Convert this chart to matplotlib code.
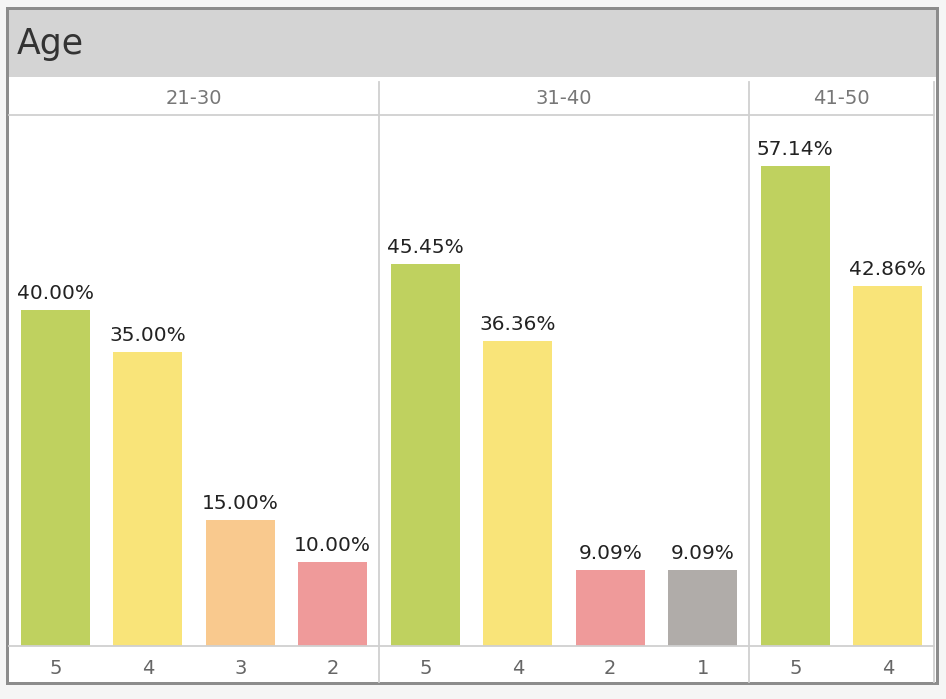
import matplotlib.pyplot as plt
from matplotlib.patches import Rectangle
from matplotlib.lines import Line2D

# Response share (%) by age group and rating
groups = ['21-30', '31-40', '41-50']
ratings = [['5', '4', '3', '2'], ['5', '4', '2', '1'], ['5', '4']]
values = [[40.00, 35.00, 15.00, 10.00], [45.45, 36.36, 9.09, 9.09], [57.14, 42.86]]

rating_colors = {'5': '#bfd15f', '4': '#f9e479', '3': '#f9c98e', '2': '#ef9a9a', '1': '#b0aca9'}

W, H = 946, 699
fig = plt.figure(figsize=(W / 100, H / 100), dpi=100)
fig.patch.set_facecolor('#f5f5f5')


def fx(x):
    return x / W


def fy(y):
    return 1 - y / H


def rect(x0, y0, x1, y1, **kw):
    fig.patches.append(Rectangle((fx(x0), fy(y1)), fx(x1) - fx(x0), fy(y0) - fy(y1),
                                 transform=fig.transFigure, **kw))


def hline(y, x0, x1, color='#d0d0d0', lw=1.3):
    fig.lines.append(Line2D([fx(x0), fx(x1)], [fy(y), fy(y)], transform=fig.transFigure,
                            color=color, lw=lw, zorder=3))


def vline(x, y0, y1, color='#d0d0d0', lw=1.3):
    fig.lines.append(Line2D([fx(x), fx(x)], [fy(y0), fy(y1)], transform=fig.transFigure,
                            color=color, lw=lw, zorder=3))


# outer frame, white body, title band
rect(6, 7, 939, 685, facecolor='#8c8c8c', edgecolor='none', zorder=-3)
rect(9, 10, 936, 682, facecolor='white', edgecolor='none', zorder=-2)
rect(9, 10, 936, 77, facecolor='#d4d4d4', edgecolor='none', zorder=-1)
fig.text(fx(17), fy(44), 'Age', fontsize=25, color='#333333', va='center', ha='left')

left, right = 9, 934
top, base = 115, 646
n_total = sum(len(r) for r in ratings)
slot = (right - left) / n_total
ymax = (base - top) / 8.4

x = left
edges = [x]
for g, r, v in zip(groups, ratings, values):
    w = slot * len(r)
    ax = fig.add_axes([fx(x), fy(base), w / W, (base - top) / H])
    ax.set_zorder(2)
    ax.set_facecolor('none')
    pos = list(range(len(r)))
    ax.bar(pos, v, width=0.75, color=[rating_colors[k] for k in r])
    for p, val in zip(pos, v):
        ax.text(p, val + 0.8, f'{val:.2f}%', ha='center', va='bottom', fontsize=14.5,
                color='#222222', clip_on=False)
    ax.set_xlim(-0.5, len(r) - 0.5)
    ax.set_ylim(0, ymax)
    ax.set_xticks(pos)
    ax.set_xticklabels(r, fontsize=14, color='#666666')
    ax.tick_params(axis='x', length=0, pad=9)
    ax.set_yticks([])
    for s in ax.spines.values():
        s.set_visible(False)
    fig.text(fx(x + w / 2), fy(99), g, ha='center', va='center', fontsize=14, color='#777777')
    x += w
    edges.append(x)

hline(top, left, right)
hline(base, left, right)
for e in edges[1:-1]:
    vline(e, 82, 682)
vline(right, 82, 682)

fig.savefig('out.png', dpi=100, facecolor=fig.get_facecolor())
